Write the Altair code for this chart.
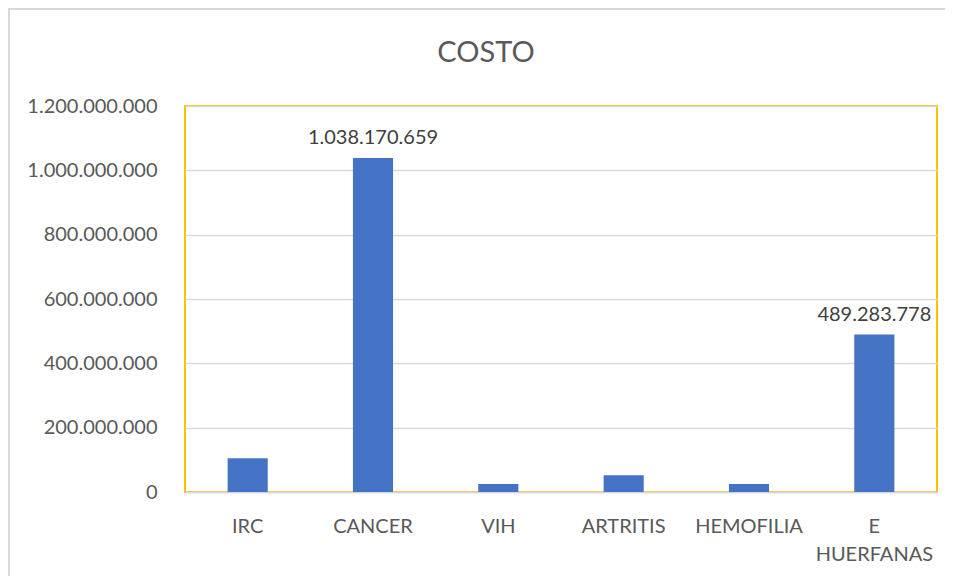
import altair as alt
import pandas as pd

categories = ["IRC", "CANCER", "VIH", "ARTRITIS", "HEMOFILIA", "E HUERFANAS"]
values = [105000000, 1038170659, 25000000, 52000000, 25000000, 489283778]
show_label = [False, True, False, False, False, True]
y_ticks = [0, 200000000, 400000000, 600000000, 800000000, 1000000000, 1200000000]

df = pd.DataFrame({"cat": categories, "value": values, "show": show_label})

FONT = "Lato"
TEXT = "#595959"

x_enc = alt.X(
    "cat:N",
    sort=categories,
    title=None,
    scale=alt.Scale(paddingInner=0.68, paddingOuter=0.34),
    axis=alt.Axis(
        labelAngle=0,
        labelFont=FONT,
        labelFontSize=20,
        labelColor=TEXT,
        labelPadding=24,
        labelBaseline="top",
        labelLineHeight=28,
        labelExpr="split(datum.label, ' ')",
        ticks=False,
        domainColor="#D9D9D9",
        domainWidth=1.5,
        grid=False,
    ),
)

y_enc = alt.Y(
    "value:Q",
    title=None,
    scale=alt.Scale(domain=[0, 1200000000], nice=False),
    axis=alt.Axis(
        values=y_ticks,
        format=",d",
        labelFont=FONT,
        labelFontSize=20,
        labelColor=TEXT,
        labelPadding=28,
        ticks=False,
        domain=False,
        gridColor="#D9D9D9",
        gridWidth=1.5,
    ),
)

bars = alt.Chart(df).mark_bar(color="#4472C4").encode(x=x_enc, y=y_enc)

labels = (
    alt.Chart(df)
    .transform_filter("datum.show")
    .mark_text(font=FONT, fontSize=20, color="#404040", baseline="alphabetic", dy=-14)
    .encode(x=alt.X("cat:N", sort=categories), y="value:Q", text=alt.Text("value:Q", format=",d"))
)

frame = alt.Chart(df).mark_rect(fill=None, stroke="#D9D9D9", strokeWidth=2).encode(
    x=alt.value(-176), x2=alt.value(950), y=alt.value(-97), y2=alt.value(560)
).transform_filter("datum.cat == 'IRC'")

chart = (
    alt.layer(frame, bars, labels)
    .properties(
        width=752,
        height=386,
        padding={"left": 177, "top": 98, "right": 8, "bottom": 84},
        autosize=alt.AutoSizeParams(type="none"),
        title=alt.TitleParams(
            "COSTO",
            font=FONT,
            fontSize=29,
            fontWeight="normal",
            color=TEXT,
            anchor="middle",
            dx=-75,
            offset=-60,
        ),
    )
    .configure(
        locale=alt.Locale(
            number=alt.NumberLocale(
                decimal=",", thousands=".", grouping=[3], currency=["$", ""]
            )
        ),
        background="white",
        view=alt.ViewConfig(stroke="#FFC000", strokeWidth=2),
    )
)

chart.save("out.html", embed_options={"renderer": "svg", "actions": False})
